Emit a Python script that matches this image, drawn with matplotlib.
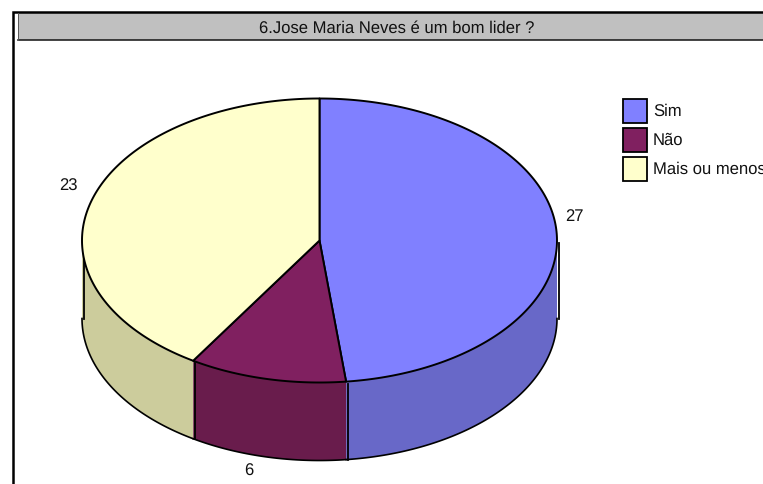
import matplotlib
matplotlib.use('Agg')

import matplotlib.pyplot as plt
import numpy as np
from matplotlib.patches import Polygon, Rectangle

plt.rcParams['font.family'] = ['Liberation Sans', 'DejaVu Sans']
plt.rcParams['text.hinting'] = 'none'

title = "6.Jose Maria Neves é um bom lider ?"
categories = ["Sim", "Não", "Mais ou menos"]
values = [27, 6, 23]
top_colors = ["#8080FF", "#802060", "#FFFFCC"]
side_colors = ["#6868C8", "#691C4C", "#CCCC9C"]

# pie geometry, in pixels
cx, cy = 319.5, 240.5
rx, ry = 237.5, 142
depth = 78


def ell(t):
    # t is clockwise from 12 o'clock
    return cx + rx * np.sin(t), cy - ry * np.cos(t)


fig = plt.figure(figsize=(7.63, 4.84), dpi=100)
ax = fig.add_axes([0, 0, 1, 1])
ax.set_xlim(0, 763)
ax.set_ylim(484, 0)
ax.axis('off')

# frame and title bar
ax.add_patch(Rectangle((18, 13), 750, 27, fc='#C0C0C0', ec='none'))
ax.plot([13, 13, 763], [484, 12, 12], color='black', lw=1.8, solid_joinstyle='miter')
ax.plot([18, 763], [40, 40], color='#222222', lw=1.2)
ax.plot([18, 18], [13, 40], color='#555555', lw=0.7)
ax.text(397, 28.5, title, ha='center', va='center', fontsize=12, color='#111111')

edges = np.cumsum([0] + values) / sum(values) * 2 * np.pi

# outer wall: only the front half of the ellipse is seen
for i in range(len(values)):
    a = max(edges[i], np.pi / 2)
    b = min(edges[i + 1], 3 * np.pi / 2)
    if a >= b:
        continue
    t = np.linspace(a, b, 120)
    x, y = ell(t)
    pts = np.r_[np.c_[x, y], np.c_[x[::-1], y[::-1] + depth]]
    ax.add_patch(Polygon(pts, fc=side_colors[i], ec='none', zorder=2))
    ax.plot(x, y + depth, color='black', lw=1.2, zorder=3)

# wall edges sit a little to the right of the slice corners
for t in [np.pi / 2, edges[1], edges[2], 3 * np.pi / 2]:
    x, y = ell(t)
    ax.plot([x + 1.5] * 2, [y + 2, y + depth], color='black', lw=1.3, zorder=3)

# top face
for i in range(len(values)):
    t = np.linspace(edges[i], edges[i + 1], 200)
    x, y = ell(t)
    pts = np.r_[[[cx, cy]], np.c_[x, y]]
    ax.add_patch(Polygon(pts, closed=True, fc=top_colors[i], ec='black', lw=1.4,
                         joinstyle='round', zorder=4))

# value labels
label_pos = [(574, 217), (249, 471), (68, 186)]
for v, (lx, ly) in zip(values, label_pos):
    ax.text(lx, ly, str(v), ha='center', va='center', fontsize=12, color='#111111')

# legend, clipped by the right edge as in the source
for i, name in enumerate(categories):
    y = 98.5 + i * 29
    ax.add_patch(Rectangle((622.5, y), 24, 24, fc=top_colors[i], ec='black', lw=1.3))
    ax.text(653, y + 12.5, name, ha='left', va='center', fontsize=12, color='#111111')

fig.savefig("out.png", dpi=100)
plt.close(fig)
